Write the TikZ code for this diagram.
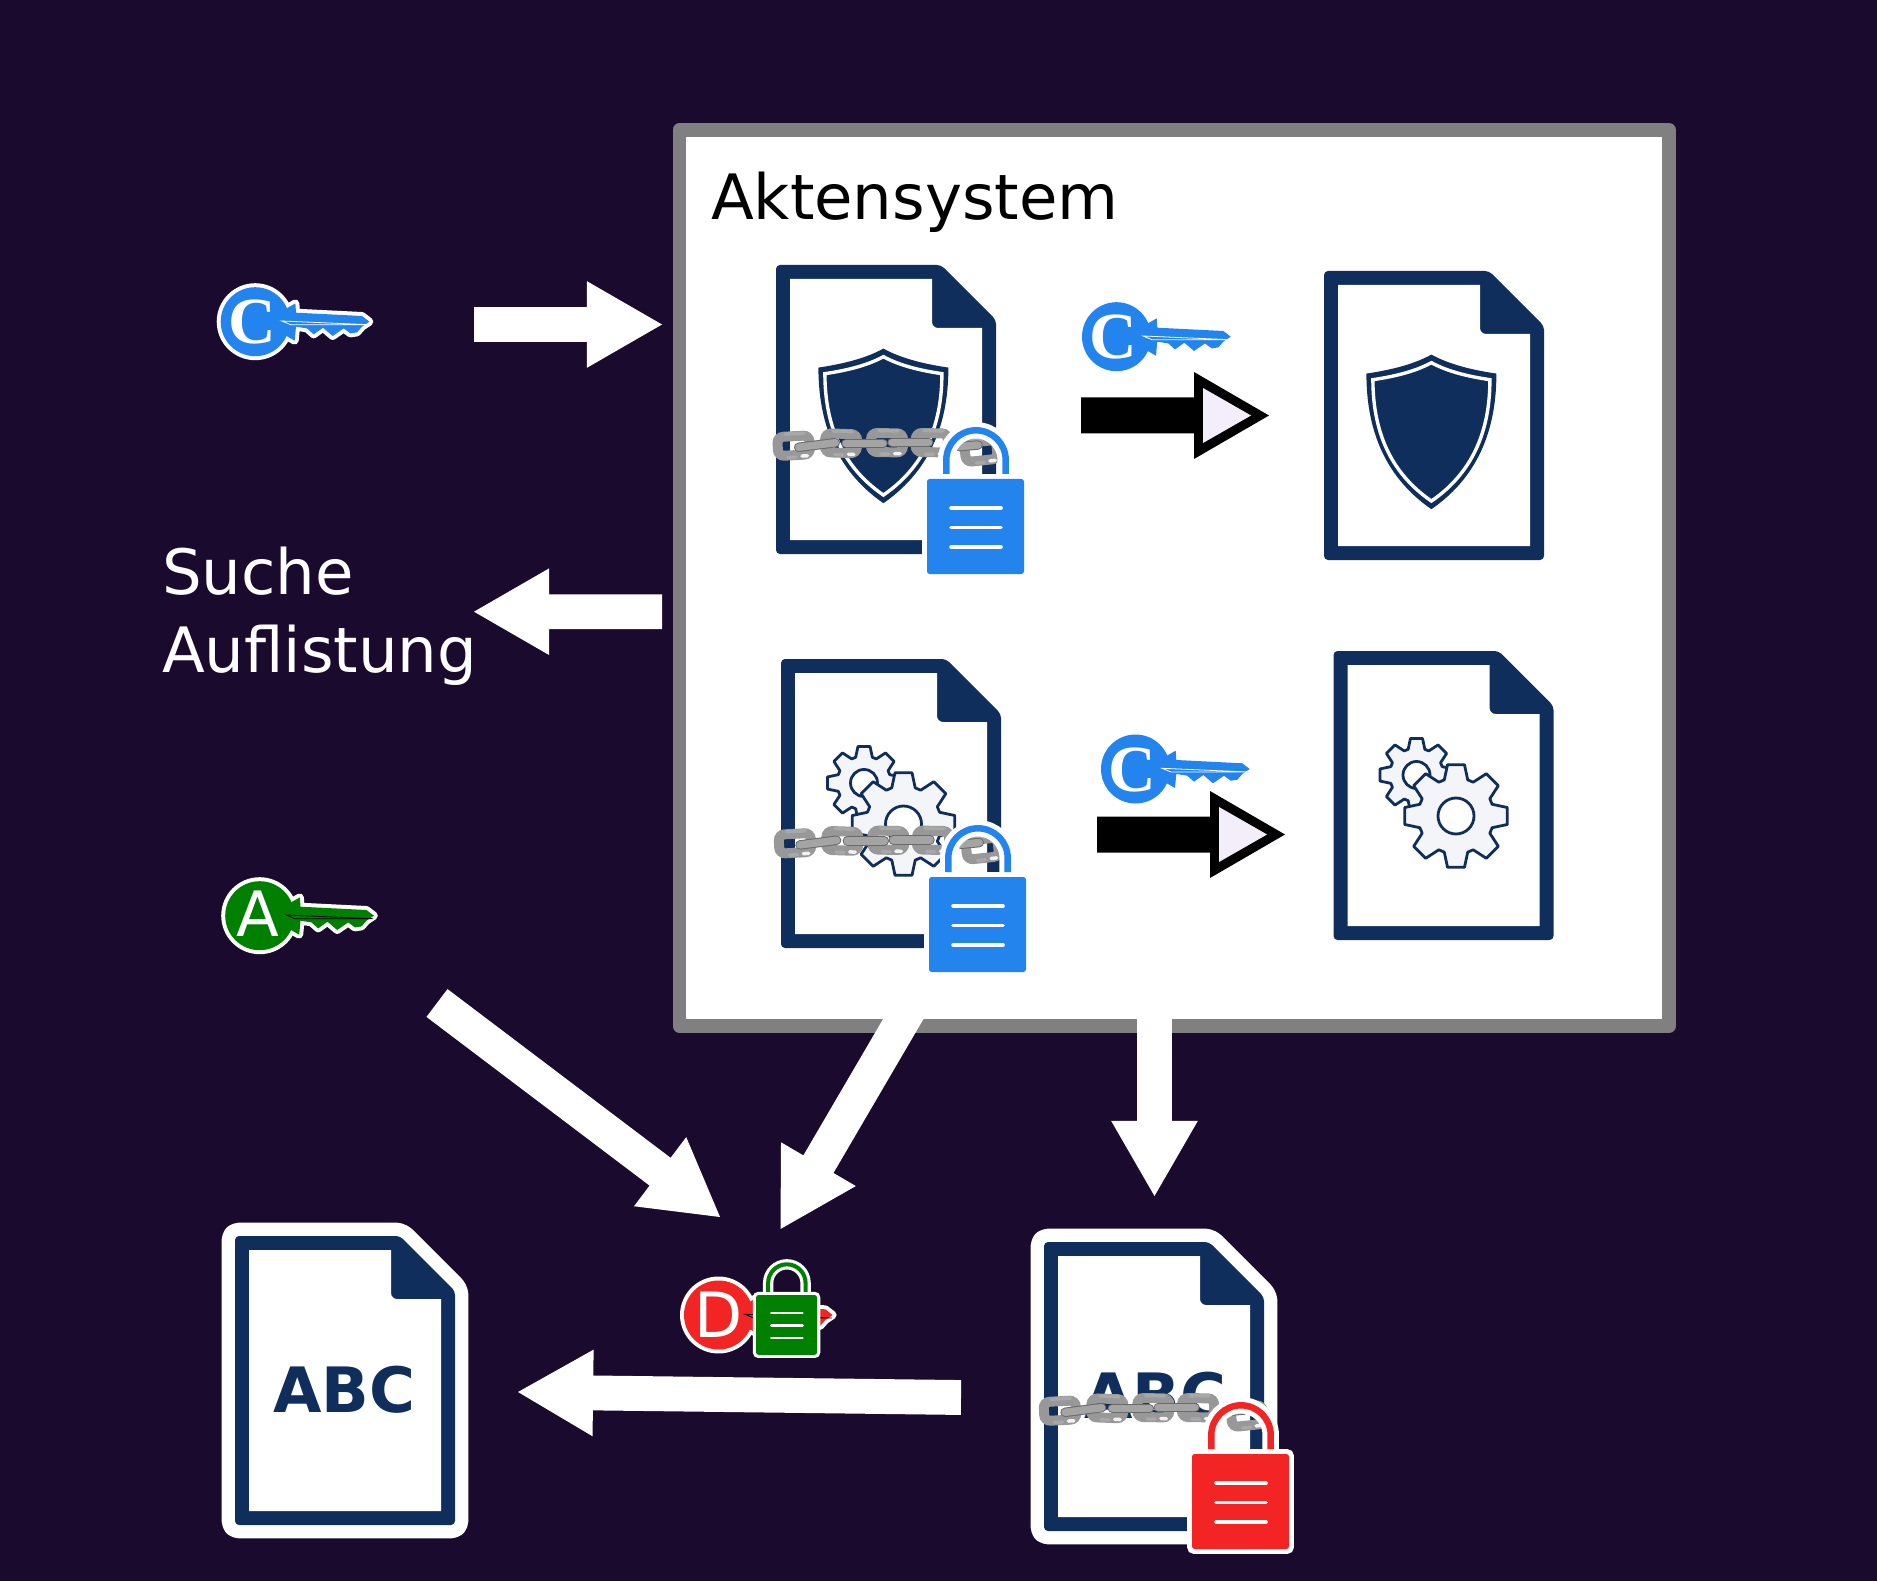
\documentclass[tikz,border=0pt]{standalone}
\usepackage{fontspec}
\setmainfont{DejaVu Sans}
\newfontfamily\ltserif{Liberation Serif}
\usetikzlibrary{calc}
\definecolor{bgdark}{HTML}{1A0B2E}
\definecolor{mynavy}{HTML}{0F2E5B}
\definecolor{keyblue}{HTML}{2484EE}
\definecolor{keygreen}{HTML}{008000}
\definecolor{keyred}{HTML}{F22424}
\definecolor{boxgray}{HTML}{808080}
\definecolor{gearfill}{HTML}{F3F5F8}
\definecolor{arrowfill}{HTML}{F3EEFA}
\definecolor{chainA}{HTML}{989898}
\definecolor{chainB}{HTML}{A8A8A8}
\newcommand\PX{0.5669pt}
\newcommand\bigtext{\fontsize{35.6}{35.6}\selectfont}
\newcommand\serifC{{\ltserif\bfseries\fontsize{37.5}{37.5}\selectfont C}}
\tikzset{
  txt/.style={inner sep=0pt,outer sep=0pt},
  chainlink/.style={rounded corners=3.4pt,line width=10*\PX},
  chainbar/.style={line cap=round,line width=#1*\PX},
  lockline/.style={white,line cap=round},
}
\newcommand\blockarrow[2]{%
  \coordinate (hb) at ($(#2)!75.4*\PX!(#1)$);
  \fill[white] ($(#1)!17.5*\PX!90:(#2)$) -- ($(hb)!17.5*\PX!-90:(#1)$)
    -- ($(hb)!43.5*\PX!-90:(#1)$) -- (#2) -- ($(hb)!43.5*\PX!90:(#1)$)
    -- ($(hb)!17.5*\PX!90:(#1)$) -- ($(#1)!17.5*\PX!-90:(#2)$) -- cycle;
}
\newcommand\darkarrow[2]{%
  \begin{scope}[shift={(#1,#2)}]
    \fill[black] (0,-18) -- (113,-18) -- (113,-43.5) -- (188,0) -- (113,43.5) -- (113,18) -- (0,18) -- cycle;
    \fill[arrowfill] (122,-27.5) -- (170,0) -- (122,27.5) -- cycle;
  \end{scope}
}
\newcommand\docicon[4]{%
  \begin{scope}[shift={(#1,#2)}]
    \ifnum#3=1
      \draw[white,fill=white,line width=27*\PX,line join=round,rounded corners=2.3pt]
        (0,0) -- (165,0) -- (220,55) -- (220,289) -- (0,289) -- cycle;
    \fi
    \fill[mynavy,rounded corners=2.3pt] (0,0) -- (165,0) -- (220,55) -- (220,289) -- (0,289) -- cycle;
    \fill[white] (14,14) -- (156,14) -- (156,57) arc[start angle=180,end angle=90,radius=6] -- (206,63) -- (206,275) -- (14,275) -- cycle;
    #4
  \end{scope}
}
\newcommand\shieldpath{(0,0) .. controls (20,11) and (45,16) .. (65,19) .. controls (65,70) and (50,120) .. (0,154.6) .. controls (-50,120) and (-65,70) .. (-65,19) .. controls (-45,16) and (-20,11) .. (0,0) -- cycle}
\newcommand\shieldicon{%
  \begin{scope}[shift={(107.4,83.6)}]
    \fill[mynavy] \shieldpath;
    \begin{scope}[shift={(0,77)},xscale=.9,yscale=.895,shift={(0,-77)}]
      \draw[white,line width=3.4*\PX,line join=miter] \shieldpath;
    \end{scope}
  \end{scope}
}
\newcommand\gearicon[4]{%
  \begin{scope}[shift={(#1,#2)}]
    \filldraw[fill=gearfill,draw=mynavy,line width=2.8*\PX,line join=round]
      (80.6:#3) \foreach \k in {90,135,...,405} {
        -- ({\k-9.4}:#3) -- ({\k+9.4}:#3) -- ({\k+18}:{0.73*#3}) -- ({\k+27}:{0.73*#3}) } -- cycle;
    \filldraw[fill=white,draw=mynavy,line width=2.8*\PX] (0,0) circle[radius={#4*#3}];
  \end{scope}
}
\newcommand\gearpair{\gearicon{83}{124}{37}{0.365}\gearicon{122.5}{165}{52}{0.346}}
\newcommand\onelink[3]{%
  \begin{scope}[shift={(#1,#2)},rotate=#3]
    \draw[chainA,chainlink] (-16,-9.5) rectangle (16,9.5);
    \draw[chainB,line width=3.5*\PX,line cap=round] (-8,-12) -- (11,-12);
    \draw[chainB,line width=3.5*\PX,line cap=round] (-6,11.5) -- (2,11.5);
    \fill[white!90!gray,rounded corners=1pt] (6,9) rectangle (15,12.5);
  \end{scope}
}
\newcommand\onebar[4]{%
  \draw[chainbar=9.5,chainA!70!black] (#1,#2) -- (#3,#4);
  \draw[chainbar=7.5,chainB!90!gray] (#1,#2) -- (#3,#4);
}
\newcommand\chainicon[2]{%
  \begin{scope}[shift={(#1,#2)}]
    \onelink{0}{0}{3}\onelink{47.3}{-2.4}{-2}\onelink{93.3}{-3}{-1}\onelink{138}{-3}{-1}\onelink{187.3}{5.3}{6}
    \onebar{5}{1.6}{41.6}{-3}\onebar{52.3}{-2.4}{89.3}{-2.4}\onebar{98.3}{-3.4}{135}{-3.4}\onebar{165.6}{1}{184.3}{-0.7}
  \end{scope}
}
\newcommand\lockicon[4]{%
  \begin{scope}[shift={(#1,#2)},scale=#3]
    \draw[white,line width=#3*16.5*\PX] (19.3,-2) -- (19.3,-19) arc[start angle=180,end angle=360,radius=29.7] -- (78.7,-2);
    \draw[white,fill=white,line width=#3*10*\PX,rounded corners=1.5pt] (0,0) rectangle (97,95);
    \draw[#4,line width=#3*6.5*\PX] (19.3,-5) -- (19.3,-19) arc[start angle=180,end angle=360,radius=29.7] -- (78.7,-5);
    \fill[#4,rounded corners=1.5pt] (0,0) rectangle (97,95);
    \foreach \ly in {29,48.5,68} { \draw[lockline,line width=#3*3.6*\PX] (24,\ly) -- (74,\ly); }
  \end{scope}
}
\newcommand\keyshape{(28.5,-11.7) -- (40.2,-18.3) -- (40.8,-9) -- (106.8,-5.7) -- (114.2,0) -- (106.8,5) -- (101.8,10.7) -- (95.2,11.7) -- (88.5,6.7) -- (77.5,14.3) -- (67.8,6) -- (58.5,12.7) -- (51.8,6.7) -- (40.8,5) -- (39.5,19) -- (28.5,12.7) -- cycle}
\newcommand\keyicon[8]{%
  \begin{scope}[shift={(#2,#3)}]
    \ifnum#6=1
      \draw[white,fill=white,line width=8*\PX,line join=round] \keyshape;
      \draw[white,fill=white,line width=8*\PX] (0,0) circle[radius=34.5];
    \fi
    \fill[#4] \keyshape;
    \fill[#4] (0,0) circle[radius=34.5];
    \draw[#5,line width=.8*\PX] (26.5,-0.7) -- (113.5,3) -- (35.5,3) -- cycle;
    \node[txt,white,anchor=base] (#1) at (#8) {#7};
  \end{scope}
}
\begin{document}
\begin{tikzpicture}[x=0.02cm,y=-0.02cm]
\fill[bgdark] (0,0) rectangle (1877,1581);
\useasboundingbox (0,0) rectangle (1877,1581);
\filldraw[fill=white,draw=boxgray,line width=14*\PX,line join=round] (679.5,130) rectangle (1669,1026);
\node[txt,anchor=base west] (title) at (711,219.5) {\bigtext Aktensystem};
\node[txt,white,anchor=base west] (suche) at (162,594) {\bigtext Suche};
\node[txt,white,anchor=base west] (aufl) at (162,672) {\bigtext Auflistung};
\docicon{776}{265}{0}{\shieldicon}
\chainicon{793.7}{445.7}
\lockicon{927}{479}{1}{keyblue}
\docicon{1324}{271}{0}{\shieldicon}
\docicon{781}{659}{0}{\gearpair}
\chainicon{795}{843.3}
\lockicon{929}{877}{1}{keyblue}
\docicon{1333.5}{651}{0}{\gearpair}
\keyicon{k1}{1116.5}{336.7}{keyblue}{white}{0}{\serifC}{-3.5,22}
\keyicon{k2}{1135.5}{769}{keyblue}{white}{0}{\serifC}{-3.5,22}
\darkarrow{1081}{415.5}
\darkarrow{1097}{834.5}
\keyicon{k3}{255.2}{321.7}{keyblue}{white}{1}{\serifC}{-2.5,22}
\keyicon{k4}{259.7}{915.7}{keygreen}{black}{1}{\bigtext A}{-2,21}
\keyicon{k5}{718.5}{1315}{keyred}{black}{1}{\bigtext D}{0.5,22}
\lockicon{756}{1295}{0.63}{keygreen}
\docicon{235}{1236}{1}{\node[txt,mynavy,anchor=base] (abc1) at (109,176.5) {\bigtext\bfseries ABC};}
\docicon{1044}{1242}{1}{\node[txt,mynavy,anchor=base] (abc2) at (111,176.5) {\bigtext\bfseries ABC};}
\chainicon{1060}{1410.7}
\lockicon{1192}{1454}{1}{keyred}
\coordinate (a1s) at (474,324.5); \coordinate (a1e) at (662,324.5);
\coordinate (a2s) at (662,611.7); \coordinate (a2e) at (474,611.7);
\coordinate (a3s) at (437,1003);  \coordinate (a3e) at (720,1217);
\coordinate (a4s) at (915,999);  \coordinate (a4e) at (780.5,1229);
\coordinate (a5s) at (1154.5,1015); \coordinate (a5e) at (1154.5,1196);
\coordinate (a6s) at (961,1397.5); \coordinate (a6e) at (518,1392);
\blockarrow{a1s}{a1e}
\blockarrow{a2s}{a2e}
\blockarrow{a3s}{a3e}
\blockarrow{a4s}{a4e}
\blockarrow{a5s}{a5e}
\blockarrow{a6s}{a6e}
\end{tikzpicture}
\end{document}
